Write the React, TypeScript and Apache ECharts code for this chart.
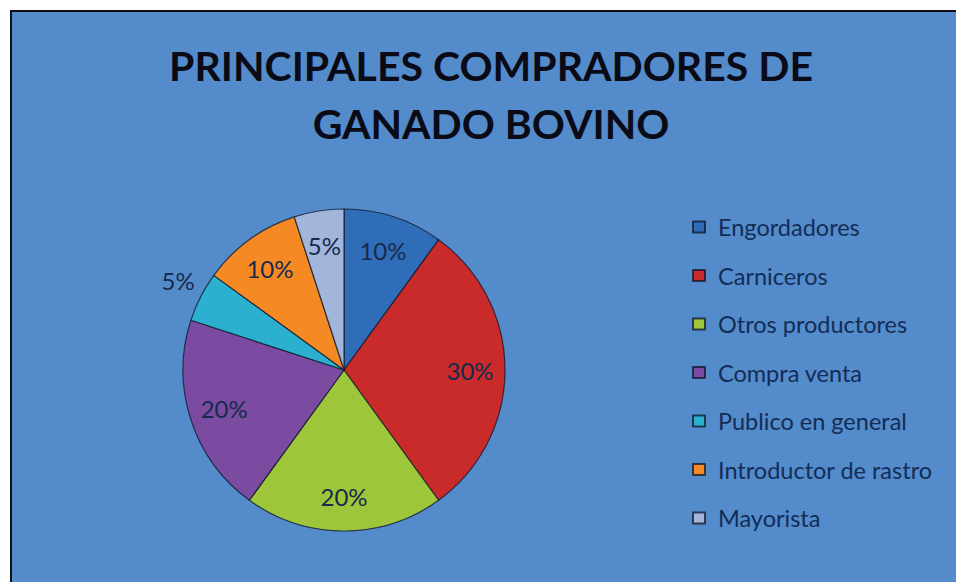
import React, { useEffect, useRef } from "react";
import * as echarts from "echarts";

const titleLines = ["PRINCIPALES COMPRADORES DE", "GANADO BOVINO"];
const categories = [
  "Engordadores",
  "Carniceros",
  "Otros productores",
  "Compra venta",
  "Publico en general",
  "Introductor de rastro",
  "Mayorista",
];
const shares = [10, 30, 20, 20, 5, 10, 5];
const sliceColors = ["#2F6DB9", "#C92A2A", "#9DC63B", "#7A4BA1", "#2CB0CF", "#F58A24", "#A2B6DC"];
const outsideLabelIndex = 4;

export default function App() {
  const ref = useRef<HTMLDivElement>(null);
  useEffect(() => {
    if (!ref.current) return;
    const chart = echarts.init(ref.current, undefined, { renderer: "svg" });
    const data = categories.map((name, i) => ({
      name,
      value: shares[i],
      itemStyle: { color: sliceColors[i] },
    }));
    const labelData = categories.map((name, i) => ({
      name,
      value: shares[i],
      label: { position: i === outsideLabelIndex ? "outside" : "inside" },
    }));
    chart.setOption({
      animation: false,
      backgroundColor: "#ffffff",
      graphic: [
        {
          type: "rect",
          z: -10,
          shape: { x: 11, y: 11, width: 960, height: 600 },
          style: { fill: "#548BCA", stroke: "#0a0f1a", lineWidth: 2 },
        },
        {
          type: "text",
          z: 10,
          x: 491,
          y: 36,
          style: {
            text: titleLines.join("\n"),
            fontFamily: "Lato",
            fontWeight: "bold",
            fontSize: 41,
            lineHeight: 58,
            fill: "#0a0b16",
            align: "center",
            verticalAlign: "top",
          },
        },
      ],
      legend: {
        orient: "vertical",
        left: 692,
        top: 215,
        padding: 0,
        itemWidth: 12,
        itemHeight: 11,
        itemGap: 24.5,
        icon: "rect",
        data: categories,
        textStyle: {
          fontFamily: "Lato",
          fontSize: 23.5,
          lineHeight: 24,
          color: "#132d57",
          padding: [0, 0, 0, 8],
        },
      },
      series: [
        {
          type: "pie",
          center: [344, 370],
          radius: [0, 161],
          startAngle: 90,
          clockwise: true,
          label: { show: false },
          labelLine: { show: false },
          itemStyle: { borderColor: "rgba(15,22,40,0.75)", borderWidth: 1.2 },
          emphasis: { disabled: true },
          data,
        },
        {
          type: "pie",
          center: [344, 370],
          radius: [85, 161],
          startAngle: 90,
          clockwise: true,
          silent: true,
          legendHoverLink: false,
          itemStyle: { color: "rgba(0,0,0,0)", borderWidth: 0 },
          label: {
            show: true,
            formatter: "{c}%",
            fontFamily: "Lato",
            fontSize: 24,
            color: "#172a4c",
          },
          labelLine: { show: false, length: 10, length2: 0 },
          labelLayout: (p: any) =>
            p.dataIndex === outsideLabelIndex ? { dx: 8, dy: -12 } : {},
          emphasis: { disabled: true },
          data: labelData,
        },
      ],
    });
    return () => chart.dispose();
  }, []);
  return (
    <div
      ref={ref}
      style={{ position: "fixed", left: 0, top: 0, width: 956, height: 582 }}
    />
  );
}
